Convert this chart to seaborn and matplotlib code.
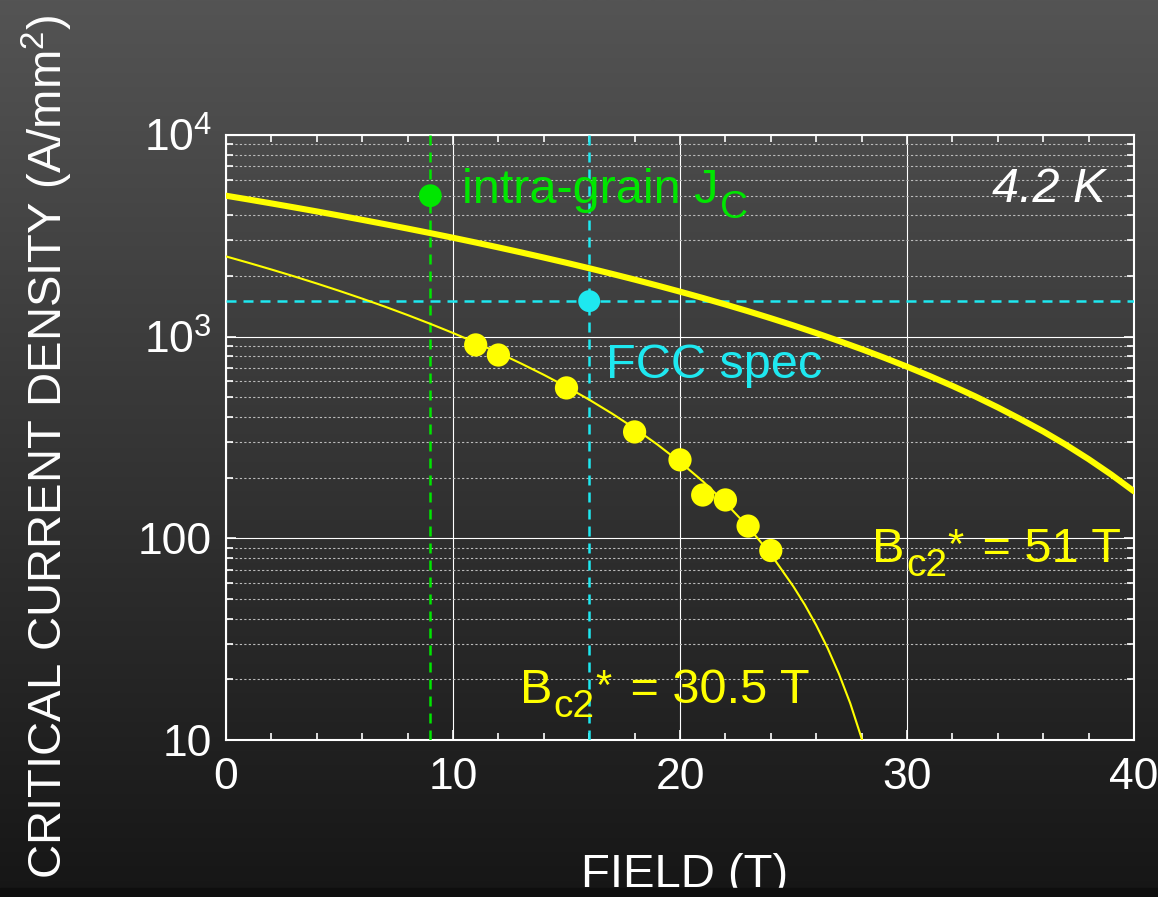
import numpy as np
import matplotlib
matplotlib.use("Agg")
import matplotlib.pyplot as plt
import seaborn as sns
from matplotlib.ticker import FixedLocator, FixedFormatter, MultipleLocator, LogLocator, NullFormatter
from matplotlib.patches import Rectangle

# ---------------- data ----------------
# Fit curve for Bc2* = 51 T (thick line)
field_51 = [0, 1, 2, 3, 4, 5, 6, 7, 8, 9, 10, 11, 12, 13, 14, 15, 16, 17, 18, 19, 20,
            21, 22, 23, 24, 25, 26, 27, 28, 29, 30, 31, 32, 33, 34, 35, 36, 37, 38, 39, 40]
jc_51 = [5000, 4787, 4579, 4376, 4178, 3985, 3796, 3613, 3435, 3262, 3094,
         2930, 2771, 2617, 2468, 2324, 2184, 2049, 1919, 1793, 1672,
         1556, 1444, 1337, 1234, 1136, 1042, 952, 867, 786, 710,
         638, 570, 506, 446, 390, 339, 291, 247, 207, 171]

# Fit curve for Bc2* = 30.5 T (thin line)
field_305 = [0, 1, 2, 3, 4, 5, 6, 7, 8, 9, 10, 11, 12, 13, 14, 15, 16, 17, 18, 19, 20,
             21, 22, 23, 24, 25, 25.5, 26, 26.5, 27, 27.5, 28, 28.5]
jc_305 = [2500, 2323, 2153, 1991, 1835, 1686, 1544, 1409, 1280, 1158, 1043,
          934, 832, 736, 647, 564, 487, 416, 351, 292, 239,
          192, 150, 114, 83.4, 57.6, 46.8, 37.1, 28.6, 21.3, 15.2, 10.2, 6.2]

# Measured points
meas_field = [11, 12, 15, 18, 20, 21, 22, 23, 24]
meas_jc = [910, 811, 557, 337, 245, 164, 155, 115, 87]

# Intra-grain Jc point and FCC spec point
intra_field = [9]
intra_jc = [5000]
fcc_field = [16]
fcc_jc = [1500]

x_ticks = [0, 10, 20, 30, 40]
x_tick_labels = ["0", "10", "20", "30", "40"]
y_ticks = [10, 100, 1000, 10000]
y_tick_labels = ["10", "100", "$10^3$", "$10^4$"]

# ---------------- style ----------------
sns.set_style("ticks")
plt.rcParams["font.family"] = ["Liberation Sans", "DejaVu Sans"]
plt.rcParams["mathtext.fontset"] = "custom"
plt.rcParams["mathtext.rm"] = "Liberation Sans"
plt.rcParams["mathtext.it"] = "Liberation Sans:italic"
plt.rcParams["mathtext.bf"] = "Liberation Sans:bold"
plt.rcParams["mathtext.default"] = "regular"

YELLOW = "#ffff00"
GREEN = "#00e600"
CYAN = "#1ee8f0"
WHITE = "#ffffff"

W, H = 1158, 897
fig = plt.figure(figsize=(W / 100, H / 100), dpi=100)

# background gradient
bg = fig.add_axes([0, 0, 1, 1], zorder=-10)
vals = np.linspace(0x54, 0x16, 256) / 255.0
img = np.repeat(vals[:, None, None], 3, axis=2)
bg.imshow(img, aspect="auto", extent=[0, 1, 0, 1], interpolation="bilinear")
bg.set_xlim(0, 1)
bg.set_ylim(0, 1)
bg.axis("off")

ax = fig.add_axes([226 / W, 1 - 740 / H, 908 / W, 605 / H])
ax.set_facecolor("none")

dash = (4, 2.8)
ax.axvline(intra_field[0], color=GREEN, lw=1.8, dashes=dash, zorder=3)
ax.axvline(fcc_field[0], color=CYAN, lw=1.8, dashes=dash, zorder=3)
ax.axhline(fcc_jc[0], color=CYAN, lw=1.8, dashes=dash, zorder=3)

sns.lineplot(x=field_51, y=jc_51, color=YELLOW, lw=4.4, ax=ax, zorder=4)
sns.lineplot(x=field_305, y=jc_305, color=YELLOW, lw=1.5, ax=ax, zorder=4)

sns.scatterplot(x=meas_field, y=meas_jc, s=280, color=YELLOW, edgecolor="none", ax=ax, zorder=5)
sns.scatterplot(x=intra_field, y=intra_jc, s=270, color=GREEN, edgecolor="none", ax=ax, zorder=5)
sns.scatterplot(x=fcc_field, y=fcc_jc, s=250, color=CYAN, edgecolor="none", ax=ax, zorder=5)

ax.set_yscale("log")
ax.set_xlim(0, 40)
ax.set_ylim(10, 1e4)

ax.xaxis.set_major_locator(FixedLocator(x_ticks))
ax.xaxis.set_major_formatter(FixedFormatter(x_tick_labels))
ax.xaxis.set_minor_locator(MultipleLocator(2))
ax.yaxis.set_major_locator(FixedLocator(y_ticks))
ax.yaxis.set_major_formatter(FixedFormatter(y_tick_labels))
ax.yaxis.set_minor_locator(LogLocator(base=10, subs=range(2, 10)))
ax.yaxis.set_minor_formatter(NullFormatter())

ax.grid(which="major", axis="both", color=WHITE, lw=0.8, ls="-")
ax.grid(which="minor", axis="y", color="#bcbcbc", lw=0.8, ls=(0, (2, 2)))

ax.tick_params(which="both", direction="in", top=True, right=True, colors=WHITE, width=1.2)
ax.tick_params(which="major", length=7, labelsize=32, labelcolor=WHITE)
ax.tick_params(which="minor", length=5)
ax.tick_params(axis="x", which="major", pad=12)
ax.tick_params(axis="y", which="major", pad=10)
for sp in ax.spines.values():
    sp.set_color(WHITE)
    sp.set_linewidth(1.5)
    sp.set_visible(True)


def chain_text(ax, x, y, parts, color, style="normal"):
    """Draw text pieces one after another; each piece: (text, size, dy_points, dx_points)."""
    prev = None
    for txt, size, dy, dx in parts:
        if prev is None:
            prev = ax.text(x, y, txt, color=color, fontsize=size, style=style,
                           ha="left", va="baseline", zorder=6)
        else:
            prev = ax.annotate(txt, xy=(1, y), xycoords=(prev, "data"),
                               xytext=(dx, dy), textcoords="offset points",
                               color=color, fontsize=size, style=style,
                               ha="left", va="baseline", zorder=6,
                               annotation_clip=False)
    return prev


FS = 35
SUB = 28
chain_text(ax, 10.4, 4600, [("intra-grain J", FS, 0, 0), ("C", SUB, -11, 1)], GREEN)
ax.text(16.74, 624, "FCC spec", color=CYAN, fontsize=FS, ha="left", va="baseline", zorder=6)
ax.text(38.72, 4670, "4.2 K", color=WHITE, fontsize=FS, style="italic", ha="right", va="baseline", zorder=6)
chain_text(ax, 28.46, 76.4, [("B", FS, 0, 0), ("c2", SUB, -10, 1), ("*", 30, 3, 0),
                             (" = 51 T", FS, 0, 4)], YELLOW)
chain_text(ax, 12.95, 15.3, [("B", FS, 0, 0), ("c2", SUB, -10, 1), ("*", 30, 3, 0),
                             (" = 30.5 T", FS, 0, 4)], YELLOW)

# axis titles
fig.text(685 / W, 1 - 887 / H, "FIELD (T)", color=WHITE, fontsize=34, ha="center", va="baseline")
fig.text(47 / W, 1 - 447 / H, "CRITICAL CURRENT DENSITY (A/mm$^2$)", color=WHITE, fontsize=34,
         rotation=90, ha="center", va="center")

# dark strip at the very bottom
fig.add_artist(Rectangle((0, 0), 1, 9 / H, transform=fig.transFigure, color="#0e0e0e", zorder=20))

fig.savefig("out.png", dpi=100)
